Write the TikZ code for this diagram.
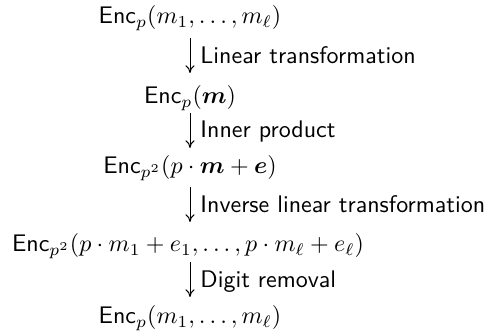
\documentclass[tikz,border=0pt]{standalone}
\usepackage{amsmath}
\usetikzlibrary{arrows.meta}
\begin{document}
\begin{tikzpicture}[x=0.4167pt,y=-0.4167pt,
  row/.style={anchor=base,inner sep=0pt,font=\fontsize{10}{12}\selectfont},
  lbl/.style={anchor=base west,inner sep=0pt,font=\fontsize{10}{12}\selectfont\sffamily},
  arr/.style={line width=0.4pt,-{Computer Modern Rightarrow[length=3.2pt,width=3.8pt]}}]
\useasboundingbox (0,0) rectangle (491,335);
\newcommand{\Enc}{\textsf{Enc}}
\node[row] (r1) at (190,23.5) {$\Enc_p(m_1,\dots,m_\ell)$};
\node[row] (r2) at (190,103.5) {$\Enc_p(\boldsymbol{m})$};
\node[row] (r3) at (190,173.5) {$\Enc_{p^2}(p\cdot\boldsymbol{m}+\boldsymbol{e})$};
\node[row] (r4) at (188,251.5) {$\Enc_{p^2}(p\cdot m_1+e_1,\dots,p\cdot m_\ell+e_\ell)$};
\node[row] (r5) at (190,323.5) {$\Enc_p(m_1,\dots,m_\ell)$};
\coordinate (a1s) at (190,38);  \coordinate (a1e) at (190,73);
\coordinate (a2s) at (190,113); \coordinate (a2e) at (190,148);
\coordinate (a3s) at (190,187); \coordinate (a3e) at (190,222);
\coordinate (a4s) at (190,262); \coordinate (a4e) at (190,297);
\draw[arr] (a1s) -- (a1e);
\draw[arr] (a2s) -- (a2e);
\draw[arr] (a3s) -- (a3e);
\draw[arr] (a4s) -- (a4e);
\node[lbl] (l1) at (200,64) {Linear transformation};
\node[lbl] (l2) at (200,138) {Inner product};
\node[lbl] (l3) at (200,213) {Inverse linear transformation};
\node[lbl] (l4) at (200,288) {Digit removal};
\end{tikzpicture}
\end{document}
